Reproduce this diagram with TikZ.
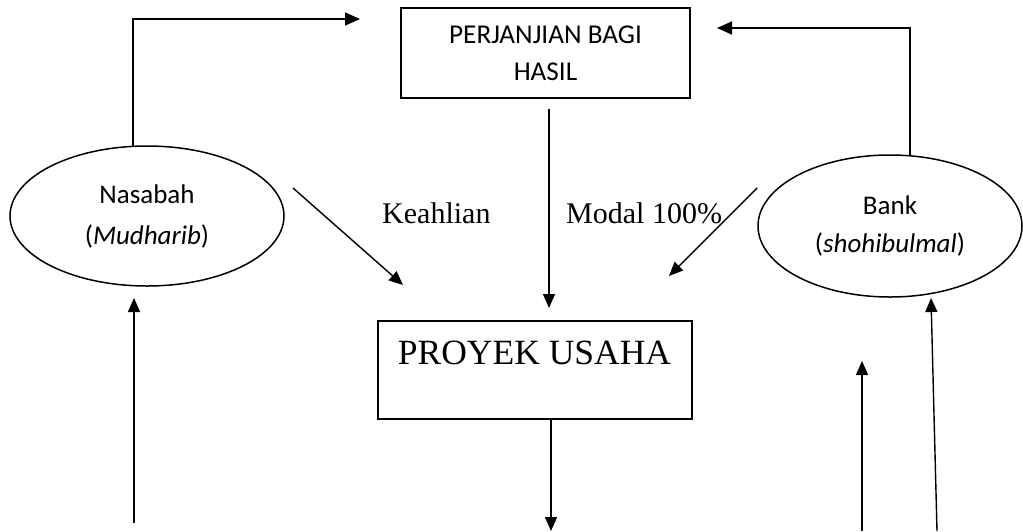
\documentclass[tikz,border=0pt]{standalone}
\usepackage{fontspec}
\setmainfont{Liberation Serif}
\newfontfamily\carlito{Carlito}
\usetikzlibrary{arrows.meta,shapes.geometric,calc}
\begin{document}
\begin{tikzpicture}[x=1pt,y=-1pt,
  arr/.style={line width=1.4pt,-{Triangle[length=14pt,width=12pt]}},
  conn/.style={line width=1.6pt,-{Triangle[length=15pt,width=13pt]}},
  boxa/.style={draw,line width=1.8pt,minimum width=289pt,minimum height=90pt,inner sep=0pt,align=center,font=\carlito\fontsize{27.2}{37}\selectfont},
  boxb/.style={draw,line width=1.8pt,minimum width=314pt,minimum height=98pt,inner sep=0pt},
  ell/.style={draw,ellipse,line width=1.5pt,inner sep=0pt,align=center},
  lbl/.style={inner sep=0pt,font=\fontsize{30}{30}\selectfont,anchor=base west}]
\useasboundingbox (0,0) rectangle (1023,531);
\fill[white] (0,0) rectangle (1023,531);

\node[boxa] (perj) at (545.5,53) {PERJANJIAN BAGI\\HASIL};
\node[ell,minimum width=274pt,minimum height=140pt,font=\carlito\fontsize{27}{41}\selectfont] (nas) at (147,216) {Nasabah\\(\textit{Mudharib})};
\node[ell,minimum width=264pt,minimum height=142pt,font=\carlito\fontsize{27}{38}\selectfont] (bank) at (890,226) {Bank\\(\textit{shohibulmal})};
\node[boxb] (proy) at (535,370) {};
\node[inner sep=0pt,anchor=base,font=\fontsize{35.5}{35.5}\selectfont] (proyt) at (534.5,364) {PROYEK USAHA};
\node[lbl] (keah) at (382,223) {Keahlian};
\node[lbl] (modal) at (566,223) {Modal 100\%};

\coordinate (perjin) at (360,19);
\coordinate (bankin) at (717,28);
\coordinate (keas) at (293,188);
\coordinate (keae) at (403,285);
\coordinate (mids) at (549,109);
\coordinate (mide) at (549,308);
\coordinate (mods) at (757,188);
\coordinate (mode) at (669,276);
\coordinate (proyout) at (551,531);
\coordinate (lefts) at (134,523);
\coordinate (lefte) at (134,298);
\coordinate (r1s) at (862,531);
\coordinate (r1e) at (862,361);
\coordinate (r2s) at (937,531);
\coordinate (r2e) at (931,298);

\draw[conn] ($(nas.north)+(-14,0.4)$) |- (perjin);
\draw[conn] ($(bank.north)+(20,0.8)$) |- (bankin);
\draw[arr] (keas) -- (keae);
\draw[arr] (mids) -- (mide);
\draw[arr] (mods) -- (mode);
\draw[arr] ($(proy.south)+(16,0)$) -- (proyout);
\draw[arr] (lefts) -- (lefte);
\draw[arr] (r1s) -- (r1e);
\draw[arr] (r2s) -- (r2e);
\end{tikzpicture}
\end{document}
